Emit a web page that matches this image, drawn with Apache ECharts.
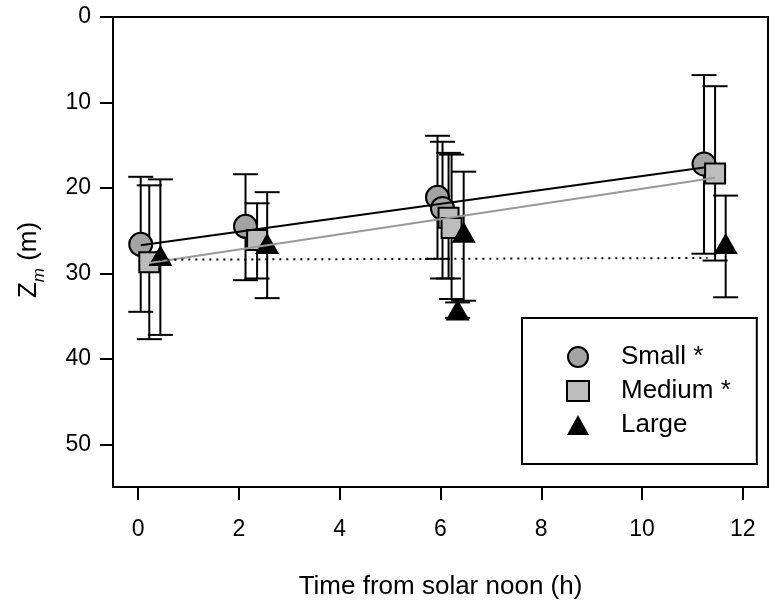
<!DOCTYPE html>
<html>
<head>
<meta charset="utf-8">
<script src="https://cdn.jsdelivr.net/npm/echarts@6/dist/echarts.min.js"></script>
<style>
html,body{margin:0;padding:0;background:#fff;}
#chart{width:775px;height:607px;}
</style>
</head>
<body>
<div id="chart"></div>
<script>
// ---- data ----
const seriesNames = ['Small *', 'Medium *', 'Large'];
const xTicks = [0, 2, 4, 6, 8, 10, 12];
const yTicks = [0, 10, 20, 30, 40, 50];

const smallX  = [0.05, 2.13, 5.94, 6.04, 11.23];
const smallY  = [26.6, 24.5, 21.1, 22.4, 17.2];
const smallLo = [18.7, 18.4, 13.9, 14.6, 6.8];
const smallHi = [34.5, 30.8, 28.3, 30.6, 27.7];

const mediumX  = [0.22, 2.36, 6.16, 6.22, 11.45];
const mediumY  = [28.7, 26.1, 23.5, 24.7, 18.3];
const mediumLo = [19.7, 21.8, 15.9, 16.1, 8.1];
const mediumHi = [37.7, 30.6, 30.6, 33.0, 28.5];

const largeX  = [0.44, 2.56, 6.34, 6.46, 11.66];
const largeY  = [27.9, 26.5, 34.3, 25.2, 26.5];
const largeLo = [19.0, 20.5, 33.4, 18.1, 20.9];
const largeHi = [37.2, 32.9, 35.2, 33.2, 32.8];

// regression lines (end points)
const fitSmallX  = [0.05, 11.23];
const fitSmallY  = [26.7, 17.6];
const fitMediumX = [0.22, 11.45];
const fitMediumY = [28.8, 18.8];
const fitLargeX  = [0.44, 11.3];
const fitLargeY  = [28.4, 28.2];

// ---- helpers ----
const FONT = "'Liberation Sans', Arial, sans-serif";
const zip2 = (a, b) => a.map((v, i) => [v, b[i]]);
const zip4 = (a, b, c, d) => a.map((v, i) => [v, b[i], c[i], d[i]]);

function errRender(params, api) {
  const x = api.value(0);
  const lo = api.coord([x, api.value(2)]);
  const hi = api.coord([x, api.value(3)]);
  const half = 12.5;
  const st = {stroke: '#000', lineWidth: 2};
  return {
    type: 'group',
    children: [
      {type: 'line', shape: {x1: lo[0], y1: lo[1], x2: hi[0], y2: hi[1]}, style: st},
      {type: 'line', shape: {x1: lo[0] - half, y1: lo[1], x2: lo[0] + half, y2: lo[1]}, style: st},
      {type: 'line', shape: {x1: hi[0] - half, y1: hi[1], x2: hi[0] + half, y2: hi[1]}, style: st}
    ]
  };
}
function errSeries(name, xs, ys, lo, hi) {
  return {
    type: 'custom', name: name + '_err', renderItem: errRender,
    data: zip4(xs, ys, lo, hi), encode: {x: 0, y: 1}, silent: true, clip: false
  };
}
function fitSeries(name, xs, ys, color, type) {
  return {
    type: 'line', name: name + '_fit', data: zip2(xs, ys), showSymbol: false,
    symbol: 'none', silent: true,
    lineStyle: {color: color, width: 2, type: type}
  };
}

const chart = echarts.init(document.getElementById('chart'), null, {renderer: 'canvas'});
chart.setOption({
  animation: false,
  backgroundColor: '#fff',
  textStyle: {fontFamily: FONT},
  grid: {left: 113, top: 17, width: 655, height: 470, show: true,
         borderColor: '#000', borderWidth: 2, backgroundColor: 'transparent'},
  xAxis: {
    type: 'value', min: -0.5, max: 12.5,
    axisLine: {show: true, onZero: false, lineStyle: {color: '#000', width: 2}},
    axisTick: {show: true, customValues: xTicks, length: 13, inside: false,
               lineStyle: {color: '#000', width: 2}},
    axisLabel: {customValues: xTicks, fontSize: 23, color: '#000', margin: 31, fontFamily: FONT},
    splitLine: {show: false},
    name: 'Time from solar noon (h)', nameLocation: 'middle', nameGap: 87,
    nameTextStyle: {fontSize: 26, color: '#000', fontFamily: FONT}
  },
  yAxis: {
    type: 'value', min: 0, max: 55, inverse: true,
    axisLine: {show: true, onZero: false, lineStyle: {color: '#000', width: 2}},
    axisTick: {show: true, customValues: yTicks, length: 13, inside: false,
               lineStyle: {color: '#000', width: 2}},
    axisLabel: {customValues: yTicks, fontSize: 23, color: '#000', margin: 22, fontFamily: FONT},
    splitLine: {show: false}
  },
  legend: {
    orient: 'vertical', left: 522, top: 318,
    padding: [26, 26, 26, 44], itemGap: 8, itemWidth: 22, itemHeight: 20,
    borderColor: '#000', borderWidth: 2, backgroundColor: '#fff',
    selectedMode: false,
    textStyle: {fontSize: 26, color: '#000', fontFamily: FONT, padding: [0, 0, 0, 27]},
    data: seriesNames
  },
  graphic: [{
    type: 'text', x: 32, y: 260, rotation: Math.PI / 2,
    style: {
      text: '{z|Z}{s|m}{t| (m)}',
      align: 'center', verticalAlign: 'middle',
      rich: {
        z: {fontSize: 26, fontFamily: FONT, fill: '#000', verticalAlign: 'bottom', padding: [0, 0, 6, 0]},
        s: {fontSize: 17, fontFamily: FONT, fontStyle: 'italic', fill: '#000', verticalAlign: 'bottom'},
        t: {fontSize: 26, fontFamily: FONT, fill: '#000', verticalAlign: 'bottom', padding: [0, 0, 6, 0]}
      }
    }
  }],
  series: [
    fitSeries('Small', fitSmallX, fitSmallY, '#000', 'solid'),
    fitSeries('Medium', fitMediumX, fitMediumY, '#999', 'solid'),
    fitSeries('Large', fitLargeX, fitLargeY, '#000', [2, 5]),
    errSeries('Small', smallX, smallY, smallLo, smallHi),
    {type: 'scatter', name: seriesNames[0], data: zip2(smallX, smallY), symbol: 'circle', symbolSize: 23,
     itemStyle: {color: '#a3a3a3', borderColor: '#000', borderWidth: 2, opacity: 1}},
    errSeries('Medium', mediumX, mediumY, mediumLo, mediumHi),
    {type: 'scatter', name: seriesNames[1], data: zip2(mediumX, mediumY), symbol: 'rect', symbolSize: 20,
     itemStyle: {color: '#bdbdbd', borderColor: '#000', borderWidth: 2, opacity: 1}},
    errSeries('Large', largeX, largeY, largeLo, largeHi),
    {type: 'scatter', name: seriesNames[2], data: zip2(largeX, largeY), symbol: 'triangle', symbolSize: [24, 21],
     itemStyle: {color: '#000', borderColor: '#000', borderWidth: 0, opacity: 1}}
  ]
});
</script>
</body>
</html>
